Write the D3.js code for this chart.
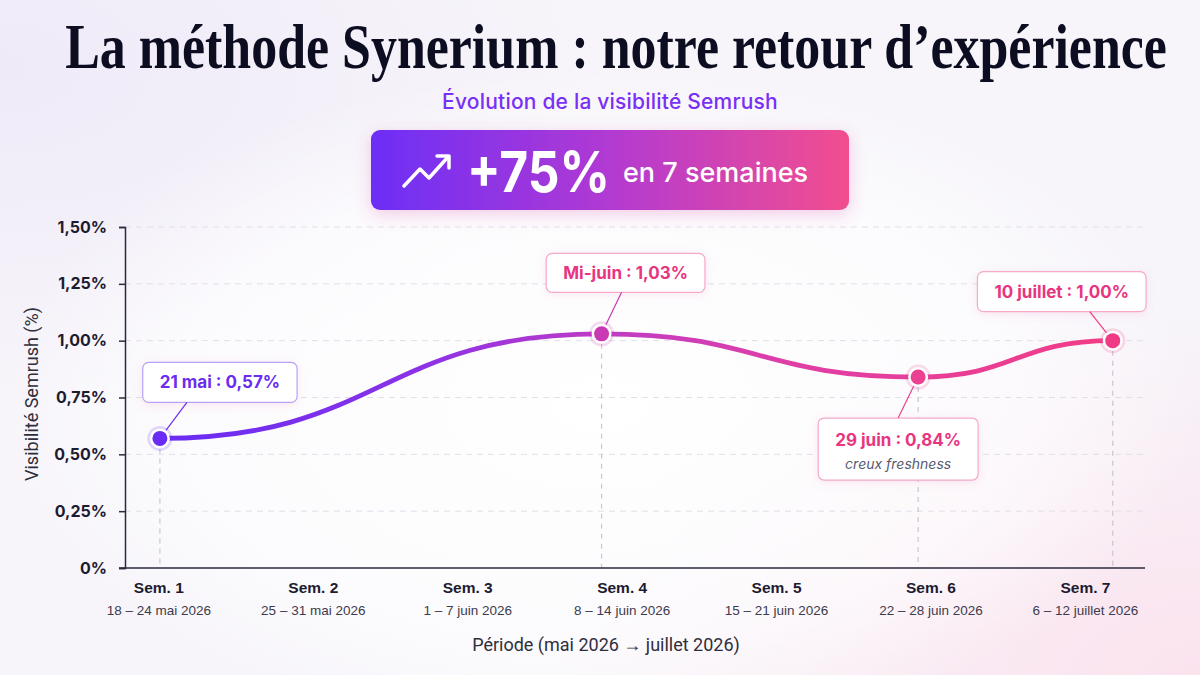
<!DOCTYPE html>
<html lang="fr">
<head>
<meta charset="utf-8">
<script src="https://cdn.jsdelivr.net/npm/d3@7"></script>
<style>
  html, body { margin: 0; padding: 0; background: #f7f5fa; }
  svg { display: block; font-family: Inter, "Noto Sans", sans-serif; }
</style>
</head>
<body>
<svg id="chart"></svg>
<script>
const weekLabels = ['Sem. 1', 'Sem. 2', 'Sem. 3', 'Sem. 4', 'Sem. 5', 'Sem. 6', 'Sem. 7'];
const weekDates = ['18 – 24 mai 2026', '25 – 31 mai 2026', '1 – 7 juin 2026', '8 – 14 juin 2026',
                   '15 – 21 juin 2026', '22 – 28 juin 2026', '6 – 12 juillet 2026'];
const weekTicks = [1, 2, 3, 4, 5, 6, 7];

// points mesurés (position en semaines, visibilité en %)
const pointWeeks = [1.01, 3.87, 5.92, 7.18];
const pointValues = [0.57, 1.03, 0.84, 1.00];
const pointLabels = ['21 mai : 0,57%', 'Mi-juin : 1,03%', '29 juin : 0,84%', '10 juillet : 1,00%'];
const pointNotes = ['', '', 'creux freshness', ''];

const yTicks = [0, 0.25, 0.5, 0.75, 1, 1.25, 1.5];

const W = 1200, H = 675;
const plot = { left: 125, right: 1145, top: 227, bottom: 568 };

const fr = d3.formatLocale({ decimal: ',', thousands: ' ', grouping: [3], currency: ['', ' €'] });
const fmtPct = v => v === 0 ? '0%' : fr.format('.2f')(v) + '%';

const svg = d3.select('#chart').attr('width', W).attr('height', H);
const defs = svg.append('defs');

// background
const bgA = defs.append('radialGradient').attr('id', 'bgPink')
  .attr('cx', '100%').attr('cy', '100%').attr('r', '55%');
bgA.append('stop').attr('offset', '0%').attr('stop-color', '#fbe3ee');
bgA.append('stop').attr('offset', '100%').attr('stop-color', '#fbe3ee').attr('stop-opacity', 0);
const bgB = defs.append('radialGradient').attr('id', 'bgLav')
  .attr('cx', '0%').attr('cy', '10%').attr('r', '50%');
bgB.append('stop').attr('offset', '0%').attr('stop-color', '#efeaf8');
bgB.append('stop').attr('offset', '100%').attr('stop-color', '#efeaf8').attr('stop-opacity', 0);
const bgC = defs.append('radialGradient').attr('id', 'bgWhite')
  .attr('cx', '50%').attr('cy', '60%').attr('r', '50%');
bgC.append('stop').attr('offset', '0%').attr('stop-color', '#ffffff');
bgC.append('stop').attr('offset', '70%').attr('stop-color', '#ffffff').attr('stop-opacity', 0.6);
bgC.append('stop').attr('offset', '100%').attr('stop-color', '#ffffff').attr('stop-opacity', 0);

svg.append('rect').attr('width', W).attr('height', H).attr('fill', '#f7f5fa');
svg.append('rect').attr('width', W).attr('height', H).attr('fill', 'url(#bgLav)');
svg.append('rect').attr('width', W).attr('height', H).attr('fill', 'url(#bgPink)');
svg.append('rect').attr('width', W).attr('height', H).attr('fill', 'url(#bgWhite)');

// filters
const glow = defs.append('filter').attr('id', 'glow')
  .attr('x', '-20%').attr('y', '-40%').attr('width', '140%').attr('height', '180%');
glow.append('feDropShadow').attr('dx', 0).attr('dy', 4).attr('stdDeviation', 8)
  .attr('flood-color', '#d94aa8').attr('flood-opacity', 0.28);

const softShadow = defs.append('filter').attr('id', 'soft')
  .attr('x', '-20%').attr('y', '-40%').attr('width', '140%').attr('height', '180%');
softShadow.append('feDropShadow').attr('dx', 0).attr('dy', 2).attr('stdDeviation', 4)
  .attr('flood-color', '#e06aa8').attr('flood-opacity', 0.15);

// title (condensed by scaling the glyphs horizontally)
const title = svg.append('text')
  .attr('text-anchor', 'middle')
  .attr('font-family', '"Liberation Serif", "DejaVu Serif", serif')
  .attr('font-weight', 700)
  .attr('font-size', 63)
  .attr('fill', '#0d0d22')
  .text('La méthode Synerium : notre retour d’expérience');
const titleLen = title.node().getComputedTextLength();
title.attr('transform', `translate(616,68) scale(${1102 / titleLen},1)`);

svg.append('text')
  .attr('x', 610).attr('y', 109)
  .attr('text-anchor', 'middle')
  .attr('font-size', 21).attr('font-weight', 500)
  .attr('letter-spacing', 0.2)
  .attr('fill', '#7a2ff5')
  .text('Évolution de la visibilité Semrush');

// banner
const bannerGrad = defs.append('linearGradient').attr('id', 'banner')
  .attr('x1', '0%').attr('x2', '100%').attr('y1', '0%').attr('y2', '0%');
bannerGrad.append('stop').attr('offset', '0%').attr('stop-color', '#6c2ef6');
bannerGrad.append('stop').attr('offset', '50%').attr('stop-color', '#b23ad2');
bannerGrad.append('stop').attr('offset', '100%').attr('stop-color', '#f24e8f');

const banner = svg.append('g');
banner.append('rect')
  .attr('x', 371).attr('y', 130).attr('width', 478).attr('height', 80).attr('rx', 9)
  .attr('fill', 'url(#banner)').attr('filter', 'url(#glow)');
banner.append('polyline')
  .attr('points', '404,186 420,169 429,178 448,157')
  .attr('fill', 'none').attr('stroke', '#fff').attr('stroke-width', 3.5)
  .attr('stroke-linecap', 'round').attr('stroke-linejoin', 'round');
banner.append('polyline')
  .attr('points', '437,156 449,156 449,168')
  .attr('fill', 'none').attr('stroke', '#fff').attr('stroke-width', 3.5)
  .attr('stroke-linecap', 'round').attr('stroke-linejoin', 'round');
banner.append('text')
  .attr('x', 467).attr('y', 192)
  .attr('font-size', 57).attr('font-weight', 700).attr('fill', '#fff')
  .attr('textLength', 143).attr('lengthAdjust', 'spacingAndGlyphs')
  .text('+75%');
banner.append('text')
  .attr('x', 623).attr('y', 182)
  .attr('font-size', 27).attr('font-weight', 500).attr('fill', '#fff')
  .text('en 7 semaines');

// scales
const x = d3.scaleLinear().domain([0.784, 7.389]).range([plot.left, plot.right]);
const y = d3.scaleLinear().domain([0, 1.5]).range([plot.bottom, plot.top]);

// gridlines
svg.append('g')
  .selectAll('line')
  .data(yTicks.filter(d => d > 0))
  .join('line')
  .attr('x1', plot.left).attr('x2', plot.right)
  .attr('y1', d => y(d)).attr('y2', d => y(d))
  .attr('stroke', '#e2dfe8').attr('stroke-width', 1)
  .attr('stroke-dasharray', '6,5');

// drop lines
svg.append('g')
  .selectAll('line')
  .data(pointWeeks.map((w, i) => ({ w, v: pointValues[i] })))
  .join('line')
  .attr('x1', d => x(d.w)).attr('x2', d => x(d.w))
  .attr('y1', d => y(d.v)).attr('y2', plot.bottom)
  .attr('stroke', '#c9c6d2').attr('stroke-width', 1.2)
  .attr('stroke-dasharray', '5,5');

// y axis
const yAxis = svg.append('g')
  .attr('transform', `translate(${plot.left},0)`)
  .call(d3.axisLeft(y).tickValues(yTicks).tickFormat(fmtPct).tickSize(6).tickPadding(12));
yAxis.select('.domain').attr('stroke', '#2b2a3d').attr('stroke-width', 1.5);
yAxis.selectAll('.tick line').attr('stroke', '#2b2a3d').attr('stroke-width', 1.5);
yAxis.selectAll('.tick text')
  .attr('font-family', 'Inter, sans-serif')
  .attr('font-size', 16).attr('font-weight', 700).attr('fill', '#1d1b30');

// x axis
const xAxis = svg.append('g')
  .attr('transform', `translate(0,${plot.bottom})`)
  .call(d3.axisBottom(x).tickValues(weekTicks).tickSize(0).tickFormat(''));
xAxis.select('.domain').attr('stroke', '#2b2a3d').attr('stroke-width', 1.5)
  .attr('d', `M${plot.left - 6},0H${plot.right}`);
xAxis.selectAll('.tick').each(function(d, i) {
  const t = d3.select(this);
  t.append('text')
    .attr('y', 25).attr('text-anchor', 'middle')
    .attr('font-size', 15.5).attr('font-weight', 700).attr('fill', '#1d1b30')
    .text(weekLabels[i]);
  t.append('text')
    .attr('y', 47).attr('text-anchor', 'middle')
    .attr('font-size', 13.5).attr('font-weight', 400).attr('fill', '#3d3b4c')
    .text(weekDates[i]);
});

// axis titles
svg.append('text')
  .attr('x', 606).attr('y', 651)
  .attr('text-anchor', 'middle')
  .attr('font-family', 'Roboto, sans-serif')
  .attr('font-size', 18).attr('fill', '#2f2e3c')
  .text('Période (mai 2026 → juillet 2026)');

svg.append('text')
  .attr('transform', 'translate(38,394) rotate(-90)')
  .attr('text-anchor', 'middle')
  .attr('font-family', 'Roboto, sans-serif')
  .attr('font-size', 18).attr('fill', '#2f2e3c')
  .text('Visibilité Semrush (%)');

// line
const pts = pointWeeks.map((w, i) => ({ w, v: pointValues[i] }));
const lineGrad = defs.append('linearGradient').attr('id', 'lineGrad')
  .attr('gradientUnits', 'userSpaceOnUse')
  .attr('x1', x(pointWeeks[0])).attr('x2', x(pointWeeks[pointWeeks.length - 1]))
  .attr('y1', 0).attr('y2', 0);
lineGrad.append('stop').attr('offset', '0%').attr('stop-color', '#682cf3');
lineGrad.append('stop').attr('offset', '28%').attr('stop-color', '#8c32e6');
lineGrad.append('stop').attr('offset', '46%').attr('stop-color', '#bf3bc6');
lineGrad.append('stop').attr('offset', '66%').attr('stop-color', '#df3fa6');
lineGrad.append('stop').attr('offset', '100%').attr('stop-color', '#f23c86');

const line = d3.line().x(d => x(d.w)).y(d => y(d.v)).curve(d3.curveBumpX);
svg.append('path')
  .datum(pts)
  .attr('d', line)
  .attr('fill', 'none')
  .attr('stroke', 'url(#lineGrad)')
  .attr('stroke-width', 4.8)
  .attr('stroke-linecap', 'round');

const dotColors = ['#6a2cf2', '#c83ab4', '#ea4290', '#ef3b86'];
const labelColors = ['#6a2cf0', '#e8357f', '#e8357f', '#e8357f'];
const borderColors = ['#b9a2f6', '#f6a9c9', '#f6a9c9', '#f6a9c9'];

// annotation layout: box centre offset from point, box height, connector anchor
const boxLayout = [
  { dx: 60, dy: -56, h: 40, cx: -33, side: 'bottom' },
  { dx: 24, dy: -61, h: 39, cx: -4, side: 'bottom' },
  { dx: -20, dy: 72, h: 62, cx: 0, side: 'top' },
  { dx: -51, dy: -49, h: 40, cx: 28, side: 'bottom' }
];

pts.forEach((p, i) => {
  const px = x(p.w), py = y(p.v);
  const L = boxLayout[i];
  const bx = px + L.dx, by = py + L.dy;
  const g = svg.append('g');

  const txt = g.append('text')
    .attr('x', bx).attr('text-anchor', 'middle')
    .attr('font-size', 17).attr('font-weight', 700)
    .attr('fill', labelColors[i])
    .text(pointLabels[i]);
  const tw = txt.node().getComputedTextLength();
  const bw = tw + 34;

  if (pointNotes[i]) {
    txt.attr('y', by - 3);
    g.append('text')
      .attr('x', bx).attr('y', by + 20)
      .attr('text-anchor', 'middle')
      .attr('font-size', 14).attr('font-style', 'italic')
      .attr('fill', '#585a70')
      .text(pointNotes[i]);
  } else {
    txt.attr('y', by + 6);
  }

  g.insert('rect', 'text')
    .attr('x', bx - bw / 2).attr('y', by - L.h / 2)
    .attr('width', bw).attr('height', L.h).attr('rx', 6)
    .attr('fill', '#fff').attr('stroke', borderColors[i]).attr('stroke-width', 1.2)
    .attr('filter', 'url(#soft)');

  const sx = bx + L.cx;
  const sy = L.side === 'bottom' ? by + L.h / 2 : by - L.h / 2;
  const ang = Math.atan2(sy - py, sx - px);
  svg.append('line')
    .attr('x1', sx).attr('y1', sy)
    .attr('x2', px + Math.cos(ang) * 10).attr('y2', py + Math.sin(ang) * 10)
    .attr('stroke', dotColors[i]).attr('stroke-width', 1.2);

  svg.append('circle').attr('cx', px).attr('cy', py).attr('r', 12.5)
    .attr('fill', dotColors[i]).attr('opacity', 0.18);
  svg.append('circle').attr('cx', px).attr('cy', py).attr('r', 10)
    .attr('fill', '#fff');
  svg.append('circle').attr('cx', px).attr('cy', py).attr('r', 7.5)
    .attr('fill', dotColors[i]);
});
</script>
</body>
</html>
